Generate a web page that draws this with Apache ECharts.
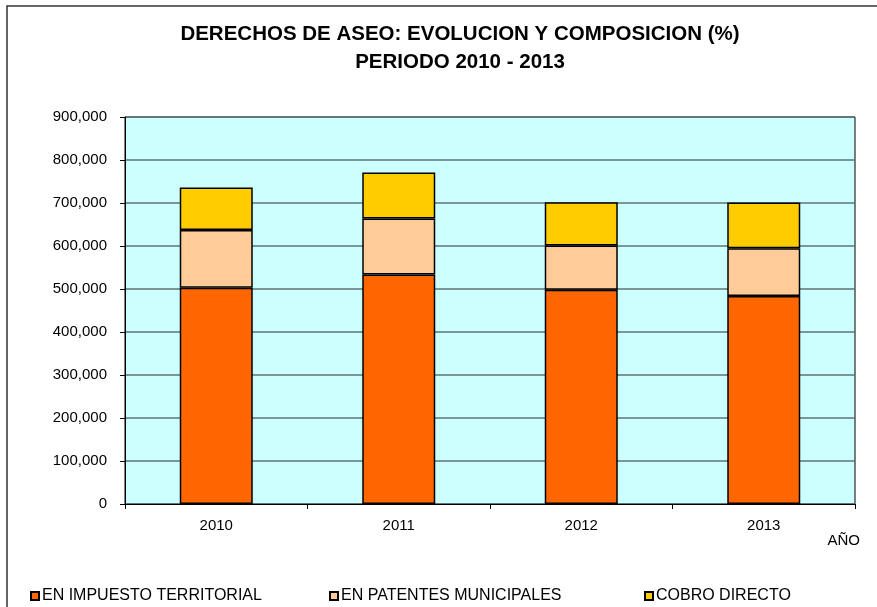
<!DOCTYPE html>
<html>
<head>
<meta charset="utf-8">
<script src="https://cdn.jsdelivr.net/npm/echarts@6/dist/echarts.min.js"></script>
<style>
  html, body { margin: 0; padding: 0; background: #fff; }
  #chart { width: 877px; height: 607px; }
</style>
</head>
<body>
<div id="chart"></div>
<script>
// datos
const years = ['2010', '2011', '2012', '2013']
const impuestoTerritorial = [503000, 534000, 498000, 484000]
const patentesMunicipales = [134000, 130000, 103000, 111000]
const cobroDirecto = [99000, 107000, 101000, 106000]
const seriesNames = ['EN IMPUESTO TERRITORIAL', 'EN PATENTES MUNICIPALES', 'COBRO DIRECTO']

const chart = echarts.init(document.getElementById('chart'))
const font = 'Liberation Sans, Arial, sans-serif'

function barSeries(name, data, color) {
  return {
    name: name,
    type: 'bar',
    stack: 'total',
    barWidth: '40%',
    data: data,
    itemStyle: {
      color: color,
      borderColor: '#000',
      borderWidth: 1.5
    },
    animation: false
  }
}

// una leyenda por serie, para poder colocarlas igual que el original
function legendAt(left, name) {
  return {
    left: left,
    top: 583,
    icon: 'rect',
    itemWidth: 8,
    itemHeight: 8,
    itemGap: 0,
    data: [name],
    selectedMode: false,
    textStyle: { fontFamily: font, fontSize: 16, color: '#000', padding: [0, 0, 0, -2] }
  }
}

chart.setOption({
  backgroundColor: '#fff',
  textStyle: { fontFamily: font },
  graphic: [{
    type: 'rect',
    shape: { x: 7, y: 6, width: 900, height: 640 },
    style: { fill: 'none', stroke: '#333', lineWidth: 1.5 },
    silent: true
  }],
  title: {
    text: 'DERECHOS DE ASEO: EVOLUCION Y COMPOSICION (%)\nPERIODO 2010 - 2013',
    left: 455,
    top: 15,
    textAlign: 'center',
    textStyle: {
      fontFamily: font,
      fontSize: 20.5,
      fontWeight: 'bold',
      color: '#000',
      lineHeight: 28
    }
  },
  legend: [
    legendAt(25, seriesNames[0]),
    legendAt(324, seriesNames[1]),
    legendAt(639, seriesNames[2])
  ],
  grid: {
    left: 125,
    right: 22,
    top: 117,
    bottom: 103,
    show: true,
    backgroundColor: '#CCFFFF',
    borderColor: '#000',
    borderWidth: 1
  },
  xAxis: {
    type: 'category',
    data: years,
    name: 'AÑO',
    nameLocation: 'end',
    nameGap: 5,
    nameTextStyle: {
      fontFamily: font,
      fontSize: 15,
      color: '#000',
      align: 'right',
      verticalAlign: 'top',
      padding: [29, 0, 0, 0]
    },
    axisLine: { lineStyle: { color: '#000', width: 1 } },
    axisTick: { show: true, length: 5, lineStyle: { color: '#000' } },
    axisLabel: { fontFamily: font, fontSize: 15, color: '#000', margin: 14 }
  },
  yAxis: {
    type: 'value',
    min: 0,
    max: 900000,
    interval: 100000,
    axisLine: { show: true, lineStyle: { color: '#000', width: 1 } },
    axisTick: { show: true, length: 5, lineStyle: { color: '#000' } },
    axisLabel: {
      fontFamily: font,
      fontSize: 15,
      color: '#000',
      margin: 18,
      formatter: v => v.toLocaleString('en-US')
    },
    splitLine: { lineStyle: { color: '#5f7373', width: 1.5 } }
  },
  series: [
    barSeries(seriesNames[0], impuestoTerritorial, '#FF6600'),
    barSeries(seriesNames[1], patentesMunicipales, '#FFCC99'),
    barSeries(seriesNames[2], cobroDirecto, '#FFCC00')
  ]
})
</script>
</body>
</html>
